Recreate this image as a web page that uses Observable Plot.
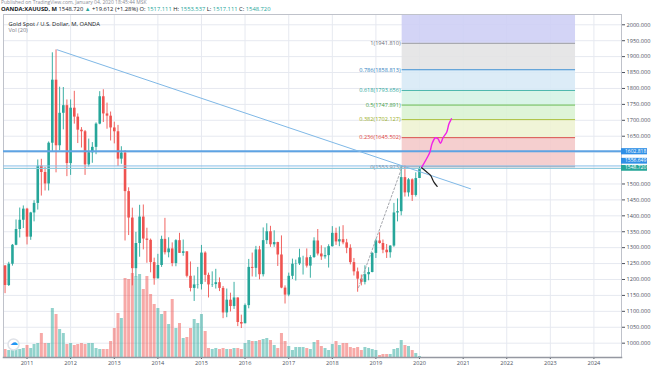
<!DOCTYPE html>
<html><head><meta charset="utf-8">
<script src="https://cdn.jsdelivr.net/npm/d3@7"></script>
<script src="https://cdn.jsdelivr.net/npm/@observablehq/plot@0.6"></script>
<style>
body{margin:0;background:#fff;font-family:"Open Sans",sans-serif;}
#wrap{position:relative;width:654px;height:366px;overflow:hidden;background:#fff;}
#wrap svg{position:absolute;left:0;top:0;}
#hdr{position:absolute;left:1px;top:0px;z-index:5;white-space:nowrap;color:#131722;}
#hdr .l1{font-size:5px;color:#8a8d96;line-height:5.6px;}
#hdr .l2{font-size:5.8px;line-height:7.6px;}
#hdr .t{color:#26a69a;}
</style></head><body>
<div id="wrap">
<div id="hdr"><div class="l1">Published on TradingView.com, January 04, 2020 18:45:44 MSK</div>
<div class="l2"><b>OANDA:XAUUSD, M</b> 1548.720 <span class="t">▲</span> +19.612 (+1.28%) O: <span class="t">1517.111</span> H: <span class="t">1553.537</span> L: <span class="t">1517.111</span> C: <span class="t">1548.720</span></div></div>
</div>
<script>
// ---- data ----
const months = d3.utcMonth.range(new Date(Date.UTC(2010,6,1)), new Date(Date.UTC(2020,1,1)));
const open = [1242.5,1181,1248,1307.5,1357,1386,
 1421,1333,1409,1439,1556,1536,1500,1628,1826,1620,1722,1746,
 1564,1738,1710,1669,1664,1560,1598,1615,1688,1774,1720,1713,
 1676,1664,1578,1597,1476,1393,1234,1313,1396,1327,1323,1253,
 1202,1244,1326,1284,1296,1250,1322,1282,1287,1210,1172,1183,
 1184,1283,1213,1183,1184,1190,1172,1095,1135,1115,1142,1065,
 1061,1118,1238,1235,1293,1215,1322,1350,1309,1316,1277,1173,
 1151,1210,1248,1249,1268,1268,1242,1269,1321,1280,1271,1275,
 1303,1345,1318,1325,1315,1298,1253,1224,1201,1191,1215,1222,
 1282,1321,1313,1292,1284,1305,1409,1413,1520,1472,1513,1464,
 1517.111];
const high = [1244,1254,1310,1387,1424.5,1431,
 1423.5,1411,1447.5,1575.5,1577.5,1552.5,1632,1912,1921,1804,1803,1764,
 1764,1791,1720,1677,1668,1641,1630,1692,1790,1796,1754,1726,
 1694,1684,1617,1605,1488,1424,1348,1433,1434,1361,1327,1267,
 1279,1336,1392,1331,1315,1325,1345,1324,1287,1255,1211,1238,
 1307,1287,1220,1224,1232,1205,1178,1170,1157,1191,1142,1088,
 1123,1263,1283,1304,1304,1362,1375,1367,1353,1317,1337,1180,
 1220,1264,1261,1295,1273,1296,1275,1331,1357,1306,1299,1309,
 1366,1361,1365,1369,1326,1309,1266,1236,1214,1243,1237,1284,
 1326,1347,1324,1310,1306,1439,1453,1555,1557,1517,1516,1535,
 1553.537];
const low = [1155.5,1178,1242,1306,1330.5,1360,
 1308.5,1323,1381,1418,1462,1478,1478,1600,1535,1604,1670,1523,
 1527,1688,1627,1613,1527,1553,1565,1592,1686,1693,1672,1635,
 1626,1555,1562,1321,1338,1180,1208,1270,1293,1251,1221,1182,
 1202,1238,1277,1268,1240,1240,1282,1273,1205,1161,1131,1170,
 1167,1191,1142,1175,1170,1162,1077,1080,1098,1106,1052,1046,
 1061,1108,1208,1207,1199,1208,1310,1301,1301,1241,1171,1123,
 1146,1200,1195,1244,1214,1236,1204,1266,1274,1260,1264,1236,
 1302,1307,1303,1309,1281,1246,1211,1160,1180,1183,1196,1221,
 1266,1311,1281,1266,1267,1301,1381,1400,1459,1459,1445,1459,
 1517.111];
const close = [1181,1248,1307.5,1357,1386,1421,
 1333,1409,1439,1556,1536,1500,1628,1826,1620,1722,1746,1564,
 1738,1710,1669,1664,1560,1598,1615,1688,1774,1720,1713,1676,
 1664,1578,1597,1476,1393,1234,1313,1396,1327,1323,1253,1202,
 1244,1326,1284,1296,1250,1322,1282,1287,1210,1172,1183,1184,
 1283,1213,1183,1184,1190,1172,1095,1135,1115,1142,1065,1060,
 1118,1238,1235,1293,1215,1322,1350,1309,1316,1277,1173,1151,
 1210,1248,1249,1268,1268,1242,1269,1321,1280,1271,1275,1303,
 1345,1318,1325,1315,1298,1253,1224,1201,1191,1215,1222,1282,
 1321,1313,1292,1284,1305,1409,1413,1520,1472,1513,1464,1517,
 1548.720];
// volume, thousands of ticks (estimated)
const volume = [16,14,14,16,16,18,
 24,18,26,28,48,28,28,98,86,56,48,26,
 28,24,26,28,26,28,28,18,16,16,16,32,
 58,88,78,158,156,168,162,166,136,162,126,106,
 98,86,92,66,116,58,68,38,40,58,76,68,
 86,52,18,16,18,16,18,16,16,18,18,16,
 28,34,32,32,34,36,38,34,24,18,48,32,
 22,14,20,20,20,18,16,30,34,22,18,14,
 26,32,24,28,28,20,18,20,14,20,18,16,
 14,4,6,6,6,16,18,34,24,22,14,8,
 2];

const fibLevels = ["0","0.236","0.382","0.5","0.618","0.786","1"];
const fibPrices = [1553.973,1645.502,1702.127,1747.891,1793.656,1858.813,1941.810];
const fibExt = 2181.492; // 1.618 level
const fibLine = ["#9a9ca3","#d9534f","#a9bf3c","#66bb55","#4db6ac","#3f8fd0","#9a9ca3"];
const fibText = ["#6a6d78","#e0403c","#9aae1e","#43a047","#26a69a","#2f7fc1","#6a6d78"];
const fibFill = ["#f4c8c8","#eef3d2","#daf3d3","#d4f2e5","#d7e9f6","#e3e3e4","#cdcef5"];
const fibStart = new Date("2019-08-09"), fibEnd = new Date("2023-07-31");

const hLevels = [1602.818, 1556.649, 1548.720];
const hBoxColor = ["#2f8fe6","#2f8fe6","#26a69a"];

const trendDates = [new Date("2011-09-10"), new Date("2021-03-03")];
const trendPrices = [1921.5, 1485];
const dashDates = [new Date("2018-08-09"), fibStart];
const dashPrices = [1175, 1553.973];
const pinkDates = ["2020-01-20","2020-02-21","2020-03-28","2020-04-15","2020-05-13","2020-06-04","2020-06-25","2020-07-16","2020-08-16","2020-09-04","2020-09-25"].map(s=>new Date(s));
const pinkPrices = [1552.8,1573.8,1599.9,1626.3,1645.1,1642,1628.1,1645.1,1662.7,1689.1,1704.8];
const blackDates = ["2020-01-19","2020-03-04","2020-04-03","2020-05-01","2020-05-28"].map(s=>new Date(s));
const blackPrices = [1550.9,1537,1526.7,1505.7,1492.2];

const priceTicks = d3.range(1000, 2001, 50);
const yearTicks = d3.utcYear.range(new Date("2011-01-01"), new Date("2025-01-01"));

// ---- setup ----
const G = "#26a69a", R = "#ef5350";
const rows = months.map((d,i)=>({date:d,o:open[i],h:high[i],l:low[i],c:close[i],v:volume[i]}));
const up = rows.filter(d=>d.c>=d.o), dn = rows.filter(d=>d.c<d.o);
const fib = fibLevels.map((l,i)=>({level:l, price:fibPrices[i], line:fibLine[i], text:fibText[i]}));
const fibBands = fibPrices.map((p,i)=>({y1:p, y2: i<fibPrices.length-1 ? fibPrices[i+1] : fibExt, fill: fibFill[i]}));
const W=654, H=366;
const base = {width:W, height:H, marginTop:14, marginRight:33, marginBottom:9, marginLeft:3,
  style:{fontFamily:"Open Sans, sans-serif", fontSize:"6px", background:"transparent", overflow:"visible"}};
const xs = {type:"utc", domain:[new Date("2010-06-18"), new Date("2024-08-19")]};
const ys = {domain:[955, 2032.3]};
const wrap = document.getElementById("wrap");
const hdr = document.getElementById("hdr");

// layer A: grid + fib fills
const A = Plot.plot({...base, style:{...base.style, background:"white"},
  x:{...xs, axis:null}, y:{...ys, axis:null},
  marks:[
    Plot.gridY(priceTicks, {stroke:"#e6e9f0", strokeOpacity:1}),
    Plot.gridX(yearTicks, {stroke:"#e6e9f0", strokeOpacity:1}),
    Plot.rect(fibBands, {x1:()=>fibStart, x2:()=>fibEnd, y1:"y1", y2:"y2", fill:d=>d.fill, fillOpacity:0.88, clip:true})
  ]});

// layer B: volume
const B = Plot.plot({...base, x:{...xs, axis:null}, y:{domain:[0,686], axis:null},
  marks:[
    Plot.ruleX(rows.filter(d=>d.c>=d.o), {x:"date", y1:0, y2:"v", stroke:G, strokeOpacity:0.5, strokeWidth:3}),
    Plot.ruleX(rows.filter(d=>d.c<d.o), {x:"date", y1:0, y2:"v", stroke:R, strokeOpacity:0.5, strokeWidth:3})
  ]});

// layer C: everything else
const C = Plot.plot({...base, x:xs, y:ys,
  marks:[
    Plot.frame({stroke:"#bfc2ca"}),
    Plot.axisY(priceTicks.filter(v=>v!==1600 && v!==1550), {anchor:"right", tickSize:3, tickPadding:2, tickFormat:d3.format(".3f"), fontSize:5.6, color:"#4c525e", label:null}),
    Plot.axisX(yearTicks, {anchor:"bottom", tickSize:2, tickPadding:1.5, tickFormat:"%Y", fontSize:5.6, color:"#4c525e", label:null}),
    Plot.frame({anchor:"bottom", stroke:"#9598a1", strokeWidth:1.5}),
    // fib lines & labels
    Plot.ruleY(fib, {y:"price", x1:()=>fibStart, x2:()=>fibEnd, stroke:d=>d.line, strokeWidth:1}),
    Plot.text(fib, {x:()=>fibStart, y:"price", text:d=>`${d.level}(${d.price.toFixed(3)})`, textAnchor:"end", dx:-1.5, fill:d=>d.text, fontSize:5.6}),
    // candles
    Plot.ruleX(up, {x:"date", y1:"l", y2:"h", stroke:G, strokeWidth:0.9}),
    Plot.ruleX(dn, {x:"date", y1:"l", y2:"h", stroke:R, strokeWidth:0.9}),
    Plot.ruleX(up, {x:"date", y1:"o", y2:"c", stroke:G, strokeWidth:2.6}),
    Plot.ruleX(dn, {x:"date", y1:"o", y2:"c", stroke:R, strokeWidth:2.6}),
    // drawings
    Plot.ruleY([hLevels[0]], {stroke:"#5ea3e3", strokeWidth:1.8}),
    Plot.ruleY([hLevels[1]], {stroke:"#86bde8", strokeWidth:1}),
    Plot.ruleY([hLevels[2]], {stroke:"#8cc9dc", strokeWidth:1}),
    Plot.line(trendDates.map((d,i)=>({d, p:trendPrices[i]})), {x:"d", y:"p", stroke:"#7fb8e6", strokeWidth:1}),
    Plot.line(dashDates.map((d,i)=>({d, p:dashPrices[i]})), {x:"d", y:"p", stroke:"#9a9ca3", strokeWidth:0.9, strokeDasharray:"2,2"}),
    Plot.line(pinkDates.map((d,i)=>({d, p:pinkPrices[i]})), {x:"d", y:"p", stroke:"#f020e8", strokeWidth:1.4, curve:"catmull-rom"}),
    Plot.line(blackDates.map((d,i)=>({d, p:blackPrices[i]})), {x:"d", y:"p", stroke:"#1e1e1e", strokeWidth:1.2, curve:"catmull-rom"}),
    // price boxes on the axis
    Plot.ruleY([hLevels[0]], {stroke:hBoxColor[0], strokeWidth:6.2, insetLeft:618, insetRight:-26}),
    Plot.ruleY([hLevels[1]], {stroke:hBoxColor[1], strokeWidth:5.8, insetLeft:618, insetRight:-26, dy:-5.2}),
    Plot.ruleY([hLevels[2]], {stroke:hBoxColor[2], strokeWidth:5.8, insetLeft:618, insetRight:-26, dy:-0.6}),
    Plot.text([hLevels[0]], {y:d=>d, text:d=>d.toFixed(3), frameAnchor:"right", textAnchor:"start", dx:3.5, fill:"white", fontSize:5}),
    Plot.text([hLevels[1]], {y:d=>d, text:d=>d.toFixed(3), frameAnchor:"right", textAnchor:"start", dx:3.5, dy:-5.2, fill:"white", fontSize:5}),
    Plot.text([hLevels[2]], {y:d=>d, text:d=>d.toFixed(3), frameAnchor:"right", textAnchor:"start", dx:3.5, dy:-0.6, fill:"white", fontSize:5}),
    // legend
    Plot.text(["Gold Spot / U.S. Dollar, M, OANDA"], {text:d=>d, frameAnchor:"top-left", textAnchor:"start", dx:5, dy:7, fill:"#131722", fontSize:5.8}),
    Plot.text(["Vol (20)"], {text:d=>d, frameAnchor:"top-left", textAnchor:"start", dx:5, dy:14, fill:"#787b86", fontSize:5.6}),
    // logo
    Plot.dot([0], {frameAnchor:"bottom-left", dx:10, dy:-13, r:5.5, fill:"white", stroke:"#dfe2e8"}),
    Plot.text(["☁"], {text:d=>d, frameAnchor:"bottom-left", textAnchor:"middle", dx:10, dy:-13, fill:"#2196f3", fontSize:8})
  ]});

wrap.insertBefore(A, hdr);
wrap.insertBefore(B, hdr);
wrap.insertBefore(C, hdr);
</script>
</body></html>
